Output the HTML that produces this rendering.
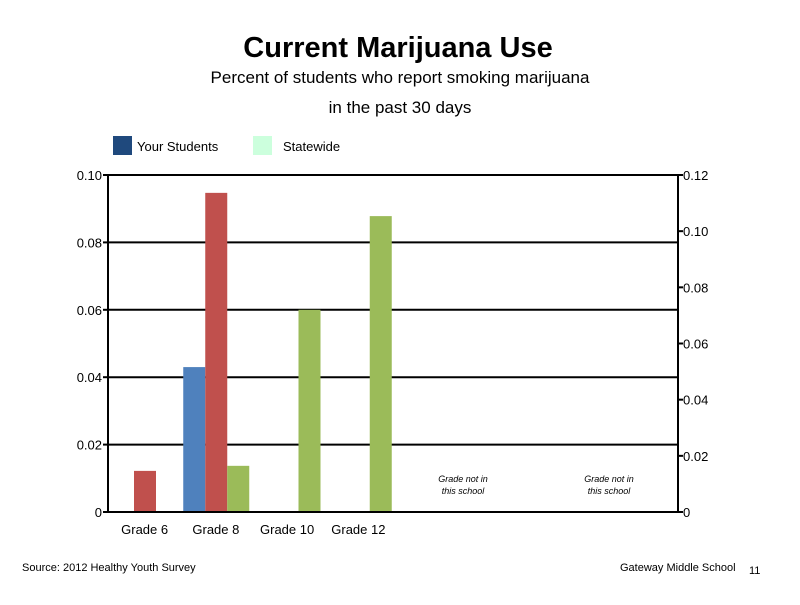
<!DOCTYPE html>
<html><head><meta charset="utf-8"><style>
body{margin:0;background:#fff;width:800px;height:600px;overflow:hidden;font-family:"Liberation Sans",sans-serif}
</style></head><body>
<svg width="800" height="600" id="c">
<text x="398" y="57" text-anchor="middle" font-size="29" font-weight="bold">Current Marijuana Use</text>
<text x="400" y="83" text-anchor="middle" font-size="17">Percent of students who report smoking marijuana</text>
<text x="400" y="113" text-anchor="middle" font-size="17">in the past 30 days</text>
<rect x="113" y="136" width="19" height="19" fill="#1F497D"/>
<text x="137" y="151" font-size="13">Your Students</text>
<rect x="253" y="136" width="19" height="19" fill="#CCFFDD"/>
<text x="283" y="151" font-size="13">Statewide</text>
<g id="grid"></g><g id="bars"></g><g id="axes"></g>
<text x="463" y="482" text-anchor="middle" font-size="9" font-style="italic">Grade not in</text>
<text x="463" y="494" text-anchor="middle" font-size="9" font-style="italic">this school</text>
<text x="609" y="482" text-anchor="middle" font-size="9" font-style="italic">Grade not in</text>
<text x="609" y="494" text-anchor="middle" font-size="9" font-style="italic">this school</text>
<text x="22" y="571" font-size="11">Source: 2012 Healthy Youth Survey</text>
<text x="620" y="571" font-size="11">Gateway Middle School</text>
<text x="749" y="574" font-size="11">11</text>
</svg>
<script>
const categories=["Grade 6","Grade 8","Grade 10","Grade 12"];
const seriesBlue=[0,0.043,0,0];
const seriesRed=[0.0122,0.0947,0,0];
const seriesGreen=[0,0.0137,0.060,0.0878];
const leftTicks=[0,0.02,0.04,0.06,0.08,0.10];
const leftTickLabels=["0","0.02","0.04","0.06","0.08","0.10"];
const rightTicks=[0,0.02,0.04,0.06,0.08,0.10,0.12];
const rightTickLabels=["0","0.02","0.04","0.06","0.08","0.10","0.12"];
const NS="http://www.w3.org/2000/svg";
const X0=108,X1=678,Y0=512,Y1=175,CW=71.25;
const yL=v=>Y0-(v/0.10)*(Y0-Y1);
const yR=v=>Y0-(v/0.12)*(Y0-Y1);
function mk(tag,attrs,parent,txt){const e=document.createElementNS(NS,tag);for(const k in attrs)e.setAttribute(k,attrs[k]);if(txt!==undefined)e.textContent=txt;document.getElementById(parent).appendChild(e);return e;}
leftTicks.forEach((t,i)=>{
 if(t>0){const g=mk('line',{x1:X0,x2:X1,y1:yL(t),y2:yL(t),stroke:'#000','stroke-width':2},'grid');
 
 }
 const tk=mk('line',{x1:X0-5,x2:X0,y1:yL(t),y2:yL(t),stroke:'#000','stroke-width':2},'axes');
 
 
 const l=mk('text',{x:X0-6,y:yL(t)+5,'text-anchor':'end','font-size':13},'axes',leftTickLabels[i]);
 
 
});
rightTicks.forEach((t,i)=>{
 const tk=mk('line',{x1:X1,x2:X1+5,y1:yR(t),y2:yR(t),stroke:'#000','stroke-width':2},'axes');
 
 
 const l=mk('text',{x:X1+5,y:yR(t)+5,'font-size':13},'axes',rightTickLabels[i]);
 
 
});
const series=[[seriesBlue,'#4F81BD','your-students'],[seriesRed,'#C0504D','comparison'],[seriesGreen,'#9BBB59','statewide']];
categories.forEach((c,ci)=>{
 const cx=X0+CW*ci;
 series.forEach((s,si)=>{
  const v=s[0][ci]; if(!v)return;
  const r=mk('rect',{x:cx+4+22*si,y:yL(v),width:22,height:Y0-yL(v),fill:s[1]},'bars');
  
  
 });
 const l=mk('text',{x:cx+CW/2+1,y:534,'text-anchor':'middle','font-size':13},'axes',c);
 
 
});
[[X0,Y1,X0,Y0+1],[X1,Y1,X1,Y0+1],[X0-1,Y0,X1+1,Y0]].forEach(a=>{
 const e=mk('line',{x1:a[0],y1:a[1],x2:a[2],y2:a[3],stroke:'#000','stroke-width':2},'axes');
 
 
});
</script>
</body></html>
